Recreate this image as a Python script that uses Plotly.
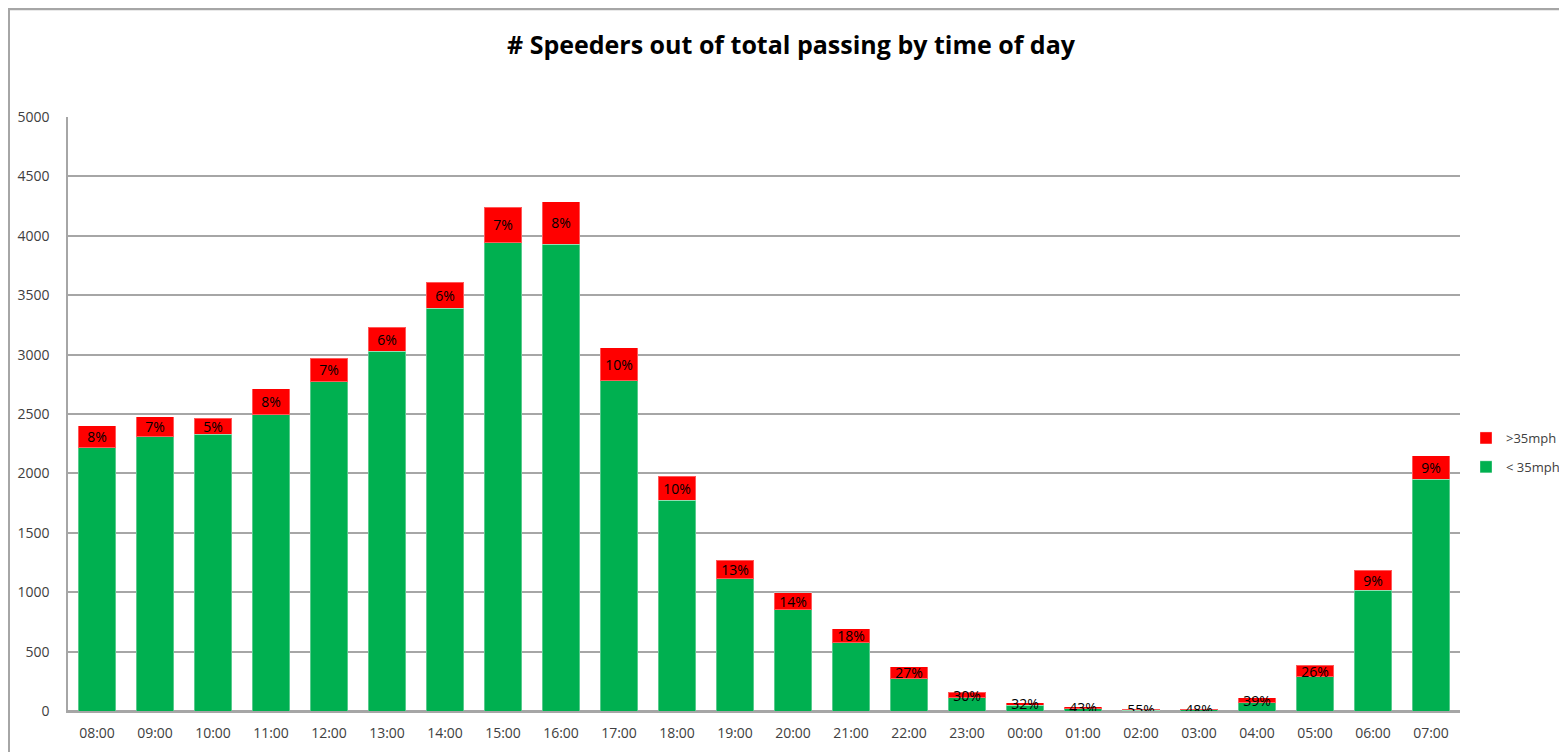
import plotly.graph_objects as go

hours = ["08:00", "09:00", "10:00", "11:00", "12:00", "13:00", "14:00", "15:00",
         "16:00", "17:00", "18:00", "19:00", "20:00", "21:00", "22:00", "23:00",
         "00:00", "01:00", "02:00", "03:00", "04:00", "05:00", "06:00", "07:00"]
under_35 = [2215, 2308, 2330, 2493, 2773, 3028, 3389, 3941,
            3930, 2779, 1776, 1112, 854, 573, 270, 110,
            48, 20, 7, 9, 69, 287, 1015, 1952]
over_35 = [185, 168, 135, 218, 196, 202, 218, 300,
           356, 277, 199, 155, 143, 121, 102, 48,
           23, 15, 8, 8, 44, 99, 168, 198]
pct_labels = ["8%", "7%", "5%", "8%", "7%", "6%", "6%", "7%",
              "8%", "10%", "10%", "13%", "14%", "18%", "27%", "30%",
              "32%", "43%", "55%", "48%", "39%", "26%", "9%", "9%"]

FONT = "Open Sans, DejaVu Sans, sans-serif"
GREEN = "#00B050"
RED = "#FF0000"
GRID = "#A6A6A6"
TXT = "#404040"

W, H = 1559, 744
ML, MR, MT, MB = 60, 107, 109, 41
PW, PH = W - ML - MR, H - MT - MB

fig = go.Figure()
fig.add_trace(go.Bar(
    x=hours, y=under_35, name="< 35mph",
    marker=dict(color=GREEN, line=dict(color="rgba(255,255,255,0.35)", width=1)),
    legendgroup="under", legendrank=2,
))
fig.add_trace(go.Bar(
    x=hours, y=over_35, name=">35mph",
    marker=dict(color=RED, line=dict(color="rgba(255,255,255,0.35)", width=1)),
    text=pct_labels, textposition="inside", insidetextanchor="middle",
    textangle=0, constraintext="none",
    textfont=dict(family=FONT, size=14, color="black"),
    legendgroup="over", legendrank=1,
))

fig.update_layout(
    width=W, height=H,
    barmode="stack", bargap=0.36,
    plot_bgcolor="white", paper_bgcolor="white",
    margin=dict(l=ML, r=MR, t=MT, b=MB, autoexpand=False),
    uniformtext=dict(minsize=14, mode="show"),
    title=dict(
        text="<b># Speeders out of total passing by time of day</b>",
        font=dict(family=FONT, size=25, color="black"),
        xref="container", x=783 / W, xanchor="center",
        yref="container", y=1 - 37 / H, yanchor="middle",
    ),
    font=dict(family=FONT, size=14, color=TXT),
    legend=dict(
        x=1458 / W, xref="container", xanchor="left",
        y=1 - 415 / H, yref="container", yanchor="top",
        traceorder="grouped", tracegroupgap=9,
        font=dict(family=FONT, size=13, color=TXT),
        bgcolor="rgba(0,0,0,0)", itemwidth=30,
    ),
    showlegend=True,
)

fig.update_xaxes(
    type="category", showgrid=False, showline=True, linecolor=GRID, linewidth=1.5,
    ticks="", ticklabelstandoff=8,
    tickfont=dict(family=FONT, size=14, color=TXT),
)
fig.update_yaxes(
    range=[0, 5000], dtick=500, showgrid=True, gridcolor=GRID, gridwidth=1.5,
    showline=True, linecolor=GRID, linewidth=1.5, zeroline=True, zerolinecolor=GRID,
    zerolinewidth=1.5, ticks="", ticklabelstandoff=14,
    tickfont=dict(family=FONT, size=14, color=TXT),
)

# outer chart frame (top and left edges visible in the reference crop)
top_y = (H - MB - 1) / PH
left_x = (1 - ML) / PW
fig.add_shape(type="line", xref="paper", yref="paper", x0=left_x - 0.004, x1=(W - ML) / PW,
              y0=top_y, y1=top_y, line=dict(color=GRID, width=2.5))
fig.add_shape(type="line", xref="paper", yref="paper", x0=left_x, x1=left_x,
              y0=-MB / PH, y1=top_y, line=dict(color=GRID, width=2))

fig.write_html("out.html")
